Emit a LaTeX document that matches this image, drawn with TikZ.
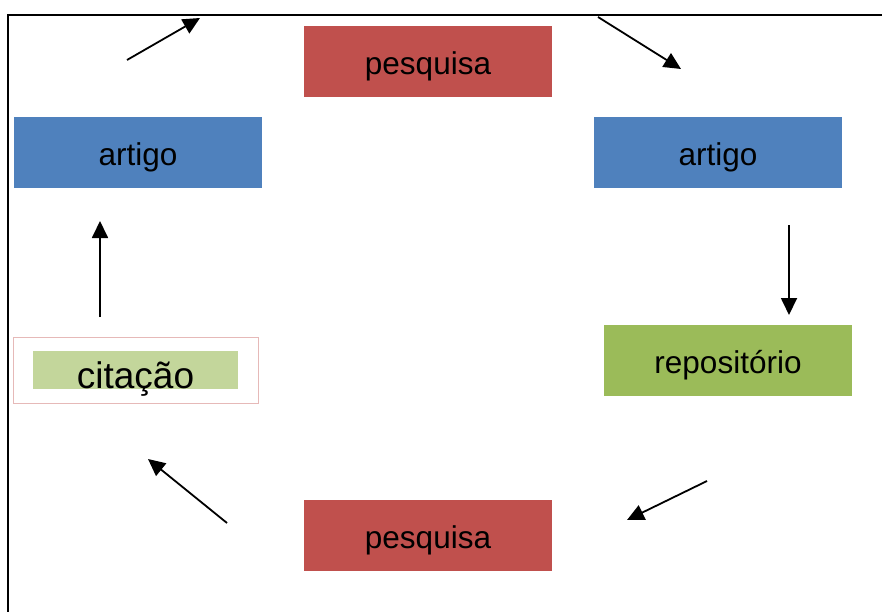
\documentclass[tikz,border=0pt]{standalone}
\usepackage{fontspec}
\setmainfont{Liberation Sans}
\usetikzlibrary{arrows.meta}
\definecolor{boxred}{RGB}{192,80,77}
\definecolor{boxblue}{RGB}{79,129,189}
\definecolor{boxgreen}{RGB}{155,187,89}
\definecolor{palegreen}{RGB}{195,214,155}
\definecolor{pinkline}{RGB}{230,185,184}

\begin{document}
\begin{tikzpicture}[x=1pt, y=-1pt,
  stage/.style={rectangle, inner sep=0pt, minimum width=248pt, minimum height=71pt,
    text height=31pt, text depth=5pt, font=\fontsize{31.5}{36}\selectfont},
  flow/.style={-{Triangle[length=17pt,width=16pt]}, line width=1.8pt}]
  \useasboundingbox (0,0) rectangle (882,612);
  \draw[line width=1.6pt] (8,612) -- (8,15) -- (882,15);
  \node[stage, fill=boxred] (P1) at (428,61.5) {pesquisa};
  \node[stage, fill=boxblue] (A1) at (718,152.5) {artigo};
  \node[stage, fill=boxgreen] (R) at (728,360.5) {repositório};
  \node[stage, fill=boxred] (P2) at (428,535) {pesquisa};
  \node[rectangle, draw=pinkline, line width=0.8pt, fill=white, minimum width=245pt,
    minimum height=66pt] (C) at (135.5,370) {};
  \node[rectangle, fill=palegreen, inner sep=0pt, minimum width=205pt,
    minimum height=38pt] (Cg) at (C.center) {};
  \node[inner sep=0pt, text height=41pt, text depth=5pt,
    font=\fontsize{37}{40}\selectfont] (Ct) at (Cg.center) {citação};
  \node[stage, fill=boxblue] (A2) at (138,152.5) {artigo};
  % free arrows between the boxes
  \coordinate (a1s) at (127,60);  \coordinate (a1e) at (200,18);
  \coordinate (a2s) at (598,17);  \coordinate (a2e) at (681,69);
  \coordinate (a3s) at (789,225); \coordinate (a3e) at (789,315);
  \coordinate (a4s) at (707,481); \coordinate (a4e) at (627,520);
  \coordinate (a5s) at (227,523); \coordinate (a5e) at (148,459);
  \coordinate (a6s) at (100,317); \coordinate (a6e) at (100,221);
  \draw[flow] (a1s) -- (a1e);
  \draw[flow] (a2s) -- (a2e);
  \draw[flow] (a3s) -- (a3e);
  \draw[flow] (a4s) -- (a4e);
  \draw[flow] (a5s) -- (a5e);
  \draw[flow] (a6s) -- (a6e);
\end{tikzpicture}
\end{document}
